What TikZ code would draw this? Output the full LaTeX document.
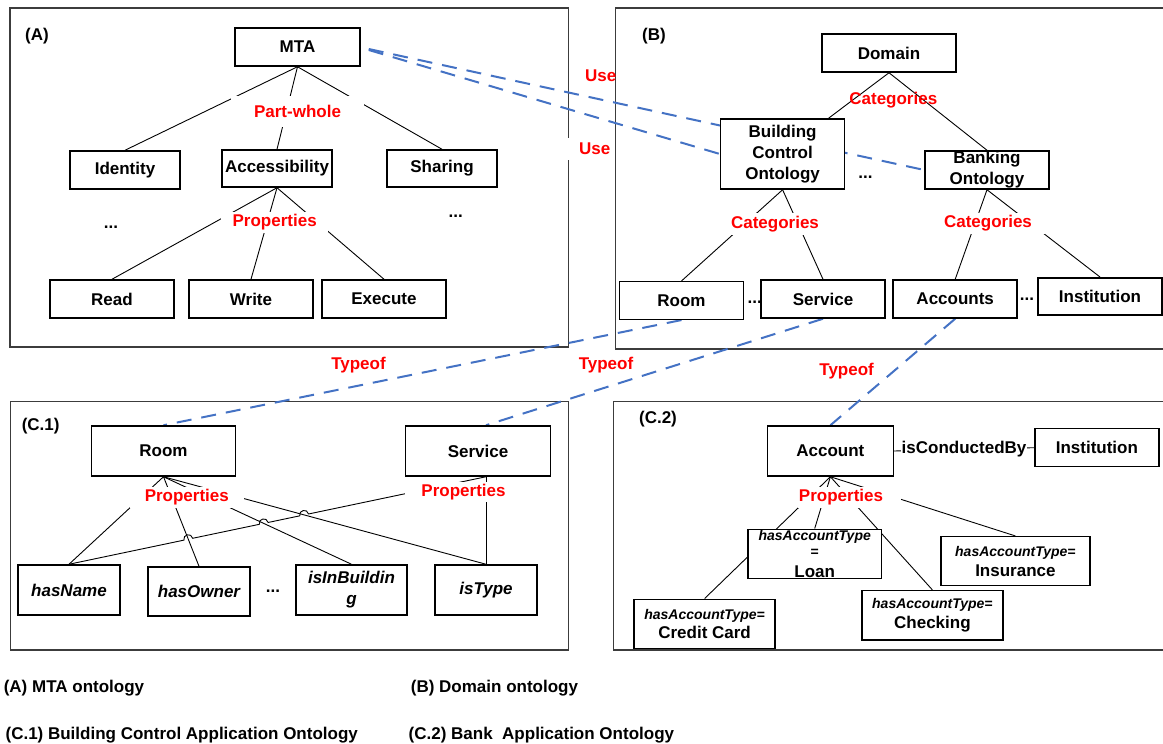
\documentclass[tikz,border=0pt]{standalone}
\usepackage{fontspec}
\setmainfont{Liberation Sans}
\usetikzlibrary{calc,intersections}
\definecolor{useblue}{RGB}{68,114,196}
\definecolor{panelgray}{RGB}{60,60,60}
\newcommand\fsz{\fontsize{17}{21}\selectfont}
\newcommand\fsm{\fontsize{14}{16}\selectfont}
\pgfdeclarelayer{background}
\pgfsetlayers{background,main}
\tikzset{
 box/.style={draw, line width=1.5pt, fill=white, inner sep=0pt, align=center},
 ibox/.style={box, font=\fsz\bfseries\itshape},
 conn/.style={line width=0.9pt, black},
 usel/.style={line width=2pt, useblue, dash pattern=on 15pt off 10pt},
 panel/.style={line width=1.1pt, panelgray},
 lbl/.style={text=red, fill=white, inner sep=0pt},
 rtxt/.style={text=red, inner sep=0pt},
 plain/.style={inner sep=0pt},
 every node/.style={font=\fsz\bfseries},
}
\begin{document}
\begin{tikzpicture}[x=1pt,y=-1pt]
\useasboundingbox (0,0) rectangle (1163,744);

% ---------- (A) ----------
\node[box, minimum width=125pt, minimum height=38pt] (mta) at (297.5,47) {MTA};
\node[box, minimum width=110pt, minimum height=38pt] (identity) at (125,170) {Identity};
\node[box, minimum width=110pt, minimum height=37pt] (access) at (277,168.5) {Accessibility};
\node[box, minimum width=110pt, minimum height=37pt] (sharing) at (442,168.5) {Sharing};
\node[box, minimum width=124pt, minimum height=38pt] (read) at (112,299) {Read};
\node[box, minimum width=124pt, minimum height=38pt] (write) at (251,299) {Write};
\node[box, minimum width=124pt, minimum height=38pt] (execute) at (384,299) {Execute};
\node[lbl, minimum width=133pt, minimum height=31pt] (pw) at (297.5,111.5) {Part-whole};
\node[lbl, minimum width=107.5pt, minimum height=21pt] (pa) at (274.7,222.5) {Properties};
\node[plain] (la) at (37,36) {(A)};
\node[plain] (da1) at (111,227) {...};
\node[plain] (da2) at (455.7,216) {...};

% ---------- (B) ----------
\node[box, minimum width=134pt, minimum height=38pt] (domain) at (889,53) {Domain};
\node[box, minimum width=124pt, minimum height=70pt] (bco) at (782.6,154) {Building\\Control\\Ontology};
\node[box, minimum width=124pt, minimum height=38pt] (bank) at (987,170) {Banking\\Ontology};
\node[box, minimum width=124pt, minimum height=37.6pt] (roomb) at (681.5,300.5) {Room};
\node[box, minimum width=124pt, minimum height=38pt] (svcb) at (823,299) {Service};
\node[box, minimum width=124pt, minimum height=38pt] (acctsb) at (955.2,299) {Accounts};
\node[box, minimum width=124pt, minimum height=37.3pt] (instb) at (1100,296.4) {Institution};
\node[rtxt] (cd) at (893.3,100) {Categories};
\node[lbl, minimum width=92pt, minimum height=22pt] (cb) at (775,224) {Categories};
\node[lbl, minimum width=104pt, minimum height=21pt] (cbk) at (993,223.5) {Categories\hspace*{10pt}};
\node[plain] (lb) at (654,36) {(B)};
\node[plain] (db1) at (754.7,302) {...};
\node[plain] (db2) at (1027,299) {...};
\node[plain] (db3) at (865.5,177) {...};
\node[rtxt] (use1) at (600.8,76) {Use};
\node[lbl, anchor=west, minimum height=22pt] (use2) at (567,149) {\hspace*{12pt}Use};

% ---------- (C.1) ----------
\node[box, minimum width=144pt, minimum height=50pt] (room1) at (163.5,451) {Room};
\node[box, minimum width=144.6pt, minimum height=50pt] (svc1) at (478,451) {Service};
\node[ibox, minimum width=102pt, minimum height=50pt] (hasname) at (69,590) {hasName};
\node[ibox, minimum width=102pt, minimum height=49pt] (hasowner) at (199,591.5) {hasOwner};
\node[ibox, minimum width=111pt, minimum height=50pt] (isinb) at (351.5,590) {isInBuildin\\g};
\node[ibox, minimum width=102pt, minimum height=50pt] (istype) at (486,590) {isType};
\node[lbl, minimum width=114.5pt, minimum height=21pt] (pr) at (186.8,497.5) {Properties};
\node[lbl, minimum width=117pt, minimum height=20pt] (ps) at (463.5,491.7) {Properties};
\node[plain] (lc1) at (40.7,426) {(C.1)};
\node[plain] (dc1) at (273,591.7) {...};

% ---------- (C.2) ----------
\node[box, minimum width=126pt, minimum height=50pt] (acct) at (830.4,451) {Account};
\node[box, minimum width=124.3pt, minimum height=38pt] (inst2) at (1096.9,447.7) {Institution};
\node[box, minimum width=133.5pt, minimum height=49.4pt] (loan) at (814.7,554)
  {{\fsm\itshape hasAccountType}\\[-5.3pt]{\fsm =}\\[-0.6pt]Loan};
\node[box, minimum width=141.2pt, minimum height=49pt] (credit) at (704.6,623.8)
  {{\fsm\itshape hasAccountType=}\\[-1.5pt]Credit Card};
\node[box, minimum width=141.2pt, minimum height=49.3pt] (checking) at (932.4,615.3)
  {{\fsm\itshape hasAccountType=}\\[-0.6pt]Checking};
\node[box, minimum width=149.3pt, minimum height=49pt] (insurance) at (1015.4,561.2)
  {{\fsm\itshape hasAccountType=}\\[-1pt]Insurance};
\node[lbl, minimum width=103pt, minimum height=21pt] (pac) at (849,497.5) {Properties\hspace*{16pt}};
\node[plain] (lc2) at (658,419.3) {(C.2)};

% ---------- Typeof labels ----------
\node[rtxt] (t1) at (358.5,365) {Typeof};
\node[rtxt] (t2) at (606,365) {Typeof};
\node[rtxt] (t3) at (846.6,371) {Typeof};

% ---------- captions ----------
\node[plain, anchor=base west] (capa) at (3.6,692) {(A) MTA ontology};
\node[plain, anchor=base west] (capb) at (410.7,692) {(B) Domain ontology};
\node[plain, anchor=base west] (capc1) at (5.4,739) {(C.1) Building Control Application Ontology};
\node[plain, anchor=base west] (capc2) at (408.5,739) {(C.2) Bank~ Application Ontology};

\begin{pgfonlayer}{background}
 % panels
 \draw[panel] (10,8) rectangle (568.5,347);
 \draw[panel] (1164,8) -- (615.3,8) -- (615.3,349) -- (1164,349);
 \draw[panel] (10.4,401.7) rectangle (568.5,650);
 \draw[panel] (1164,401.7) -- (613.5,401.7) -- (613.5,650) -- (1164,650);

 % Use and Typeof links
 \draw[usel] ($(mta.east)+(8,2)$) -- (bank.west);
 \draw[usel] ($(mta.east)+(8,3)$) -- (bco.west);
 \draw[usel] (roomb.south) -- (room1.north);
 \draw[usel] (svcb.south) -- (svc1.north -| istype.north);
 \draw[usel] (acctsb.south) -- (acct.north);

 % (A) connectors
 \draw[conn] (mta.south) -- (identity.north);
 \draw[conn] (mta.south) -- (access.north);
 \draw[conn] (mta.south) -- (sharing.north);
 \draw[conn] (access.south) -- (read.north);
 \draw[conn] (access.south) -- (write.north);
 \draw[conn] (access.south) -- (execute.north);

 % (B) connectors
 \draw[conn] (domain.south) -- ($(bco.north west)!0.866!(bco.north east)$);
 \draw[conn] (domain.south) -- (bank.north);
 \draw[conn] (bco.south) -- (roomb.north);
 \draw[conn] (bco.south) -- (svcb.north);
 \draw[conn] (bank.south) -- (acctsb.north);
 \draw[conn] (bank.south) -- (instb.north);

 % (C.1) connectors
 \coordinate (sS) at (svc1.south -| istype.north);
 \draw[conn, name path=prn] (room1.south) -- (hasname.north);
 \draw[conn, name path=pro] (room1.south) -- (hasowner.north);
 \draw[conn, name path=pri] (room1.south) -- (isinb.north);
 \draw[conn, name path=prt] (room1.south) -- (istype.north);
 \draw[conn] (sS) -- (istype.north);
 \path[name path=psn] (hasname.north) -- (sS);
 \path[name intersections={of=pro and psn, by=h1}];
 \path[name intersections={of=pri and psn, by=h2}];
 \path[name intersections={of=prt and psn, by=h3}];
 \draw[conn] (hasname.north)
   -- ($(h1)!4.5pt!(hasname.north)$) to[bend left=90, looseness=1.7] ($(h1)!4.5pt!(sS)$)
   -- ($(h2)!4.5pt!(hasname.north)$) to[bend left=90, looseness=1.7] ($(h2)!4.5pt!(sS)$)
   -- ($(h3)!4.5pt!(hasname.north)$) to[bend left=90, looseness=1.7] ($(h3)!4.5pt!(sS)$)
   -- (sS);

 % (C.2) connectors
 \draw[conn] (acct.east) -- node[plain, fill=white, inner xsep=1pt, text=black] (icb) {isConductedBy} (inst2.west);
 \draw[conn] (acct.south) -- (credit.north);
 \draw[conn] (acct.south) -- (loan.north);
 \draw[conn] (acct.south) -- (checking.north);
 \draw[conn] (acct.south) -- (insurance.north);
\end{pgfonlayer}
\end{tikzpicture}
\end{document}
